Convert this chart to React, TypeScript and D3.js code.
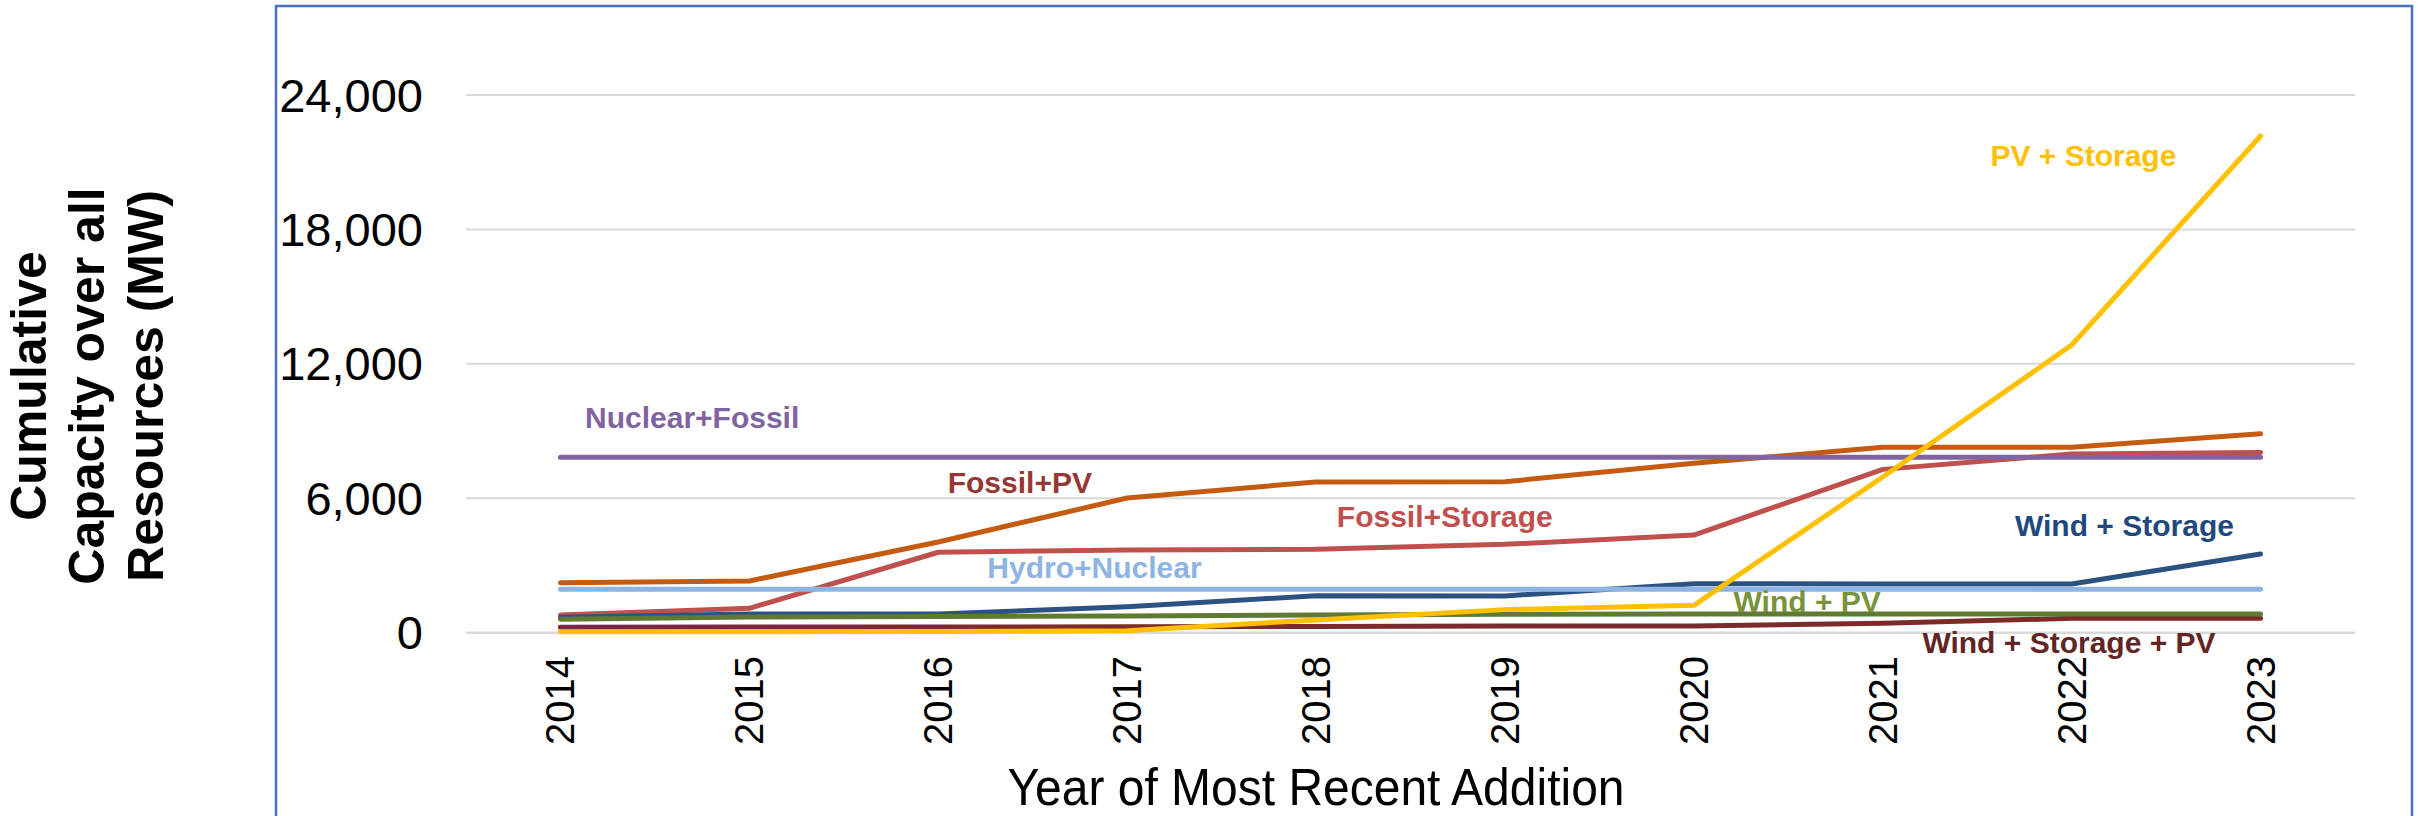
import React from "react";
import * as d3 from "d3";

const years = [2014, 2015, 2016, 2017, 2018, 2019, 2020, 2021, 2022, 2023];
const yTicks = [0, 6000, 12000, 18000, 24000];

const nuclearFossil = [7830, 7830, 7830, 7830, 7830, 7830, 7830, 7830, 7830, 7830];
const fossilPV = [2230, 2310, 4050, 6010, 6730, 6740, 7560, 8275, 8275, 8880];
const fossilStorage = [790, 1090, 3590, 3690, 3720, 3945, 4360, 7290, 7980, 8040];
const hydroNuclear = [1940, 1940, 1940, 1940, 1940, 1940, 1940, 1940, 1940, 1940];
const windStorage = [690, 835, 835, 1160, 1650, 1640, 2190, 2175, 2175, 3510];
const windPV = [600, 700, 720, 745, 790, 820, 835, 835, 835, 835];
const windStoragePV = [245, 250, 255, 265, 280, 295, 300, 420, 640, 640];
const pvStorage = [40, 45, 50, 90, 567, 1030, 1220, 6950, 12840, 22170];

// drawing order: bottom -> top
const series = [
  { name: "Fossil+Storage", values: fossilStorage, color: "#C0504D" },
  { name: "Fossil+PV", values: fossilPV, color: "#C55A11" },
  { name: "Wind + Storage + PV", values: windStoragePV, color: "#7B2C2A" },
  { name: "Wind + Storage", values: windStorage, color: "#2C5282" },
  { name: "Wind + PV", values: windPV, color: "#617A33" },
  { name: "Hydro+Nuclear", values: hydroNuclear, color: "#8DB4E2" },
  { name: "Nuclear+Fossil", values: nuclearFossil, color: "#8064A2" },
  { name: "PV + Storage", values: pvStorage, color: "#FFC000" },
];

// label anchors in data space (fractional year, value)
const labels = [
  { text: "Nuclear+Fossil", t: 2014.13, v: 9120, color: "#8064A2" },
  { text: "Fossil+PV", t: 2016.05, v: 6250, color: "#953735" },
  { text: "Hydro+Nuclear", t: 2016.26, v: 2430, color: "#8DB4E2" },
  { text: "Fossil+Storage", t: 2018.11, v: 4730, color: "#C0504D" },
  { text: "Wind + Storage", t: 2021.7, v: 4320, color: "#1F497D" },
  { text: "Wind + PV", t: 2020.21, v: 940, color: "#77933C" },
  { text: "Wind + Storage + PV", t: 2021.21, v: -890, color: "#632523" },
  { text: "PV + Storage", t: 2021.57, v: 20830, color: "#FFC000" },
];

const FONT = "'Liberation Sans', Arial, Helvetica, sans-serif";

export default function App() {
  const W = 2422;
  const H = 816;
  const plotLeft = 466;
  const plotRight = 2355;
  const x = d3.scaleBand<number>().domain(years).range([plotLeft, plotRight]);
  const xc = (yr: number) => (x(yr) as number) + x.bandwidth() / 2;
  const xt = (t: number) => xc(years[0]) + (t - years[0]) * x.step();
  const y = d3.scaleLinear().domain([0, 24000]).range([632.7, 95]);
  const line = d3
    .line<number>()
    .x((_, i) => xc(years[i]))
    .y((d) => y(d));
  const fmt = d3.format(",");

  return (
    <svg
      width={W}
      height={H}
      style={{ position: "absolute", left: 0, top: 0, background: "#fff" }}
      fontFamily={FONT}
    >
      <rect x={0} y={0} width={W} height={H} fill="#fff" />
      <rect x={276} y={6} width={2136} height={840} fill="none" stroke="#4A6EBD" strokeWidth={2.5} />

      {yTicks.map((t) => (
        <g key={t}>
          <line x1={plotLeft} x2={plotRight} y1={y(t)} y2={y(t)} stroke="#D9D9D9" strokeWidth={t === 0 ? 2.5 : 2} />
          <text x={423} y={y(t)} textAnchor="end" dominantBaseline="central" fontSize={47} fill="#000">
            {fmt(t)}
          </text>
        </g>
      ))}

      {years.map((yr) => (
        <text
          key={yr}
          transform={`translate(${xc(yr)},656) rotate(-90)`}
          textAnchor="end"
          dominantBaseline="central"
          fontSize={40}
          fill="#000"
        >
          {yr}
        </text>
      ))}

      {series.map((s) => (
        <path
          key={s.name}
          d={line(s.values) as string}
          fill="none"
          stroke={s.color}
          strokeWidth={5}
          strokeLinecap="round"
          strokeLinejoin="round"
        />
      ))}

      {labels.map((l) => (
        <text key={l.text} x={xt(l.t)} y={y(l.v)} fontSize={30} fontWeight="bold" fill={l.color}>
          {l.text}
        </text>
      ))}

      <text x={1316} y={805} textAnchor="middle" fontSize={52} textLength={617} lengthAdjust="spacingAndGlyphs" fill="#000">
        Year of Most Recent Addition
      </text>

      <g transform="translate(0,386) rotate(-90)" fontSize={50} fontWeight="bold" fill="#000" textAnchor="middle">
        <text x={0} y={46}>Cumulative</text>
        <text x={0} y={104}>Capacity over all</text>
        <text x={0} y={163}>Resources (MW)</text>
      </g>
    </svg>
  );
}
